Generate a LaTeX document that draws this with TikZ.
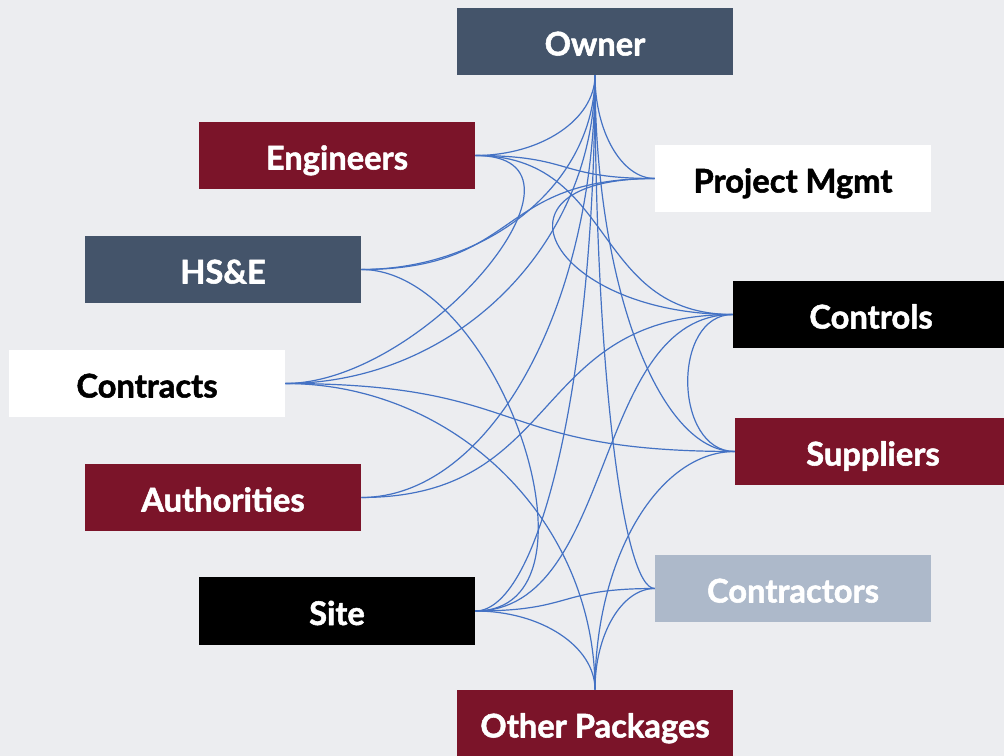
\documentclass[tikz,border=0pt]{standalone}
\usepackage{fontspec}
\setmainfont{Lato}[BoldFeatures={FakeBold=1.6}]
\usetikzlibrary{calc}
\definecolor{paper}{HTML}{ECEDF0}
\definecolor{slate}{HTML}{44546A}
\definecolor{wine}{HTML}{7B1429}
\definecolor{haze}{HTML}{ADB9CA}
\definecolor{wire}{HTML}{4472C4}

\begin{document}
\begin{tikzpicture}[x=0.75pt, y=-0.75pt, line join=round,
    party/.style={minimum width=207pt, minimum height=50.5pt, inner sep=0pt,
      font=\fontsize{24.5}{28}\selectfont\bfseries, text height=25pt, text depth=4pt},
    link/.style={wire, line width=0.9pt}]
  % --- page ---
  \fill[paper] (0,0) rectangle (1004,756);
  \useasboundingbox (0,0) rectangle (1004,756);
  % --- parties, top to bottom ---
  \node[party, fill=slate, text=white] (own) at (595,41.5) {Owner};
  \node[party, fill=wine, text=white] (eng) at (337,155.5) {Engineers};
  \node[party, fill=white, text=black] (pm) at (793,178.5) {Project Mgmt};
  \node[party, fill=slate, text=white] (hse) at (223,269.5) {HS\&E};
  \node[party, fill=black, text=white] (ctl) at (871,314.5) {Controls};
  \node[party, fill=white, text=black] (ctr) at (147,383.5) {Contracts};
  \node[party, fill=wine, text=white] (sup) at (873,451.5) {Suppliers};
  \node[party, fill=wine, text=white] (aut) at (223,497.5) {Authorities};
  \node[party, fill=haze, text=white] (cons) at (793,588.5) {Contractors};
  \node[party, fill=black, text=white] (site) at (337,611) {Site};
  \node[party, fill=wine, text=white] (oth) at (595,723.5) {Other Packages};
  % --- links: square out of each box; handle = 0.55 of the run along
  %     that direction, or the fixed length (pt) given for the looped ones ---
  \foreach \a/\ea/\b/\eb/\h in {
      own.south/-90/eng.east/0/0, own.south/-90/pm.west/180/0,
      own.south/-90/hse.east/0/0, own.south/-90/aut.east/0/0,
      own.south/-90/site.east/0/0, own.south/-90/sup.west/180/0,
      own.south/-90/cons.west/180/0, own.south/-90/ctr.east/0/0,
      eng.east/0/pm.west/180/0, eng.east/0/ctl.west/180/0, eng.east/0/ctr.east/0/105,
      hse.east/0/pm.west/180/0, hse.east/0/site.east/0/104,
      ctr.east/0/sup.west/180/0, ctr.east/0/oth.north/90/0,
      aut.east/0/ctl.west/180/0,
      site.east/0/ctl.west/180/0, site.east/0/cons.west/180/0, site.east/0/oth.north/90/0,
      pm.west/180/ctl.west/180/135,
      ctl.west/180/sup.west/180/46, sup.west/180/oth.north/90/0, cons.west/180/oth.north/90/0}
    \draw[link] let \p1=(\a), \p2=(\b),
        \n1={\h>0 ? \h*1pt : 0.55*(abs(cos(\ea))*abs(\x2-\x1)+abs(sin(\ea))*abs(\y2-\y1))},
        \n2={\h>0 ? \h*1pt : 0.55*(abs(cos(\eb))*abs(\x2-\x1)+abs(sin(\eb))*abs(\y2-\y1))} in
      (\p1) .. controls +(\ea:\n1) and +(\eb:\n2) .. (\p2);
\end{tikzpicture}
\end{document}
